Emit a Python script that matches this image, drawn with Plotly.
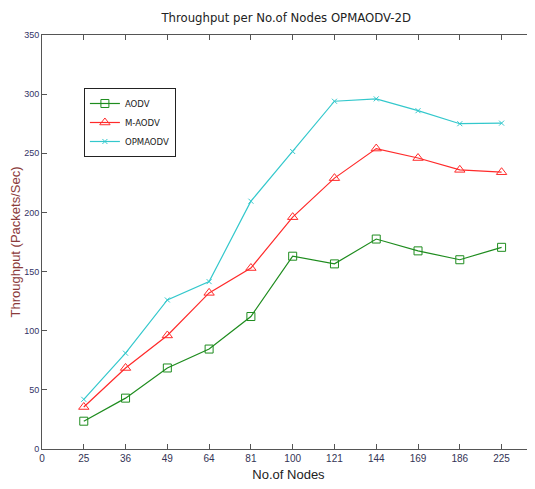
import plotly.graph_objects as go

x_labels = ["0", "25", "36", "49", "64", "81", "100", "121", "144", "169", "186", "225"]
nodes = ["25", "36", "49", "64", "81", "100", "121", "144", "169", "186", "225"]
aodv = [23.5, 43, 68.5, 84.5, 112, 163, 156.5, 177.5, 167.5, 160, 170.5]
m_aodv = [35.5, 68.5, 96, 132, 153, 196, 229, 254, 246, 236, 234]
opmaodv = [42, 81, 126, 141.5, 209.5, 251.5, 294, 296, 286, 275, 275.5]

xpos = [x_labels.index(n) for n in nodes]

fig = go.Figure()
fig.add_trace(go.Scatter(x=xpos, y=aodv, name="AODV", mode="lines+markers",
                         line=dict(color="#1e8c1e", width=1.2),
                         marker=dict(symbol="square-open", size=8, color="#1e8c1e")))
fig.add_trace(go.Scatter(x=xpos, y=m_aodv, name="M-AODV", mode="lines+markers",
                         line=dict(color="#ff2a2a", width=1.2),
                         marker=dict(symbol="triangle-up-open", size=9, color="#ff2a2a")))
fig.add_trace(go.Scatter(x=xpos, y=opmaodv, name="OPMAODV", mode="lines+markers",
                         line=dict(color="#33c8cc", width=1.2),
                         marker=dict(symbol="x-thin-open", size=5, color="#33c8cc",
                                     line=dict(width=1, color="#33c8cc"))))

fig.update_layout(
    width=535, height=489,
    margin=dict(l=34, r=8, t=27, b=48),
    paper_bgcolor="white", plot_bgcolor="white",
    font=dict(family="Liberation Sans, Arial, sans-serif"),
    title=dict(text="Throughput per No.of Nodes OPMAODV-2D", x=0.52, xanchor="center",
               y=0.981, yanchor="middle",
               font=dict(size=13, color="#222222", family="DejaVu Sans Condensed, DejaVu Sans, sans-serif")),
    showlegend=True,
    legend=dict(x=0.085, y=0.872, xanchor="left", yanchor="top",
                bgcolor="white", bordercolor="#222222", borderwidth=1,
                font=dict(size=9.5, color="#222222",
                          family="DejaVu Sans Condensed, DejaVu Sans, sans-serif"),
                itemwidth=30, tracegroupgap=0),
)
fig.update_xaxes(
    range=[0, 11.8], tickmode="array", tickvals=list(range(len(x_labels))), ticktext=x_labels,
    ticks="inside", ticklen=5, tickcolor="#555555",
    showline=True, linecolor="#555555", linewidth=1, mirror="ticks",
    showgrid=False, zeroline=False, automargin=False,
    tickfont=dict(size=10, color="#333355"),
    title=dict(text="No.of Nodes", font=dict(size=13, color="#222222"), standoff=6),
)
fig.update_yaxes(
    range=[0, 350], tickvals=[0, 50, 100, 150, 200, 250, 300, 350],
    ticks="inside", ticklen=5, tickcolor="#555555",
    showline=True, linecolor="#555555", linewidth=1, mirror="ticks",
    showgrid=False, zeroline=False, automargin=False,
    tickfont=dict(size=9, color="#333366"),
    title=dict(text="Throughput (Packets/Sec)", font=dict(size=13, color="#8b3a3a"), standoff=4),
)

fig.write_html("out.html")
